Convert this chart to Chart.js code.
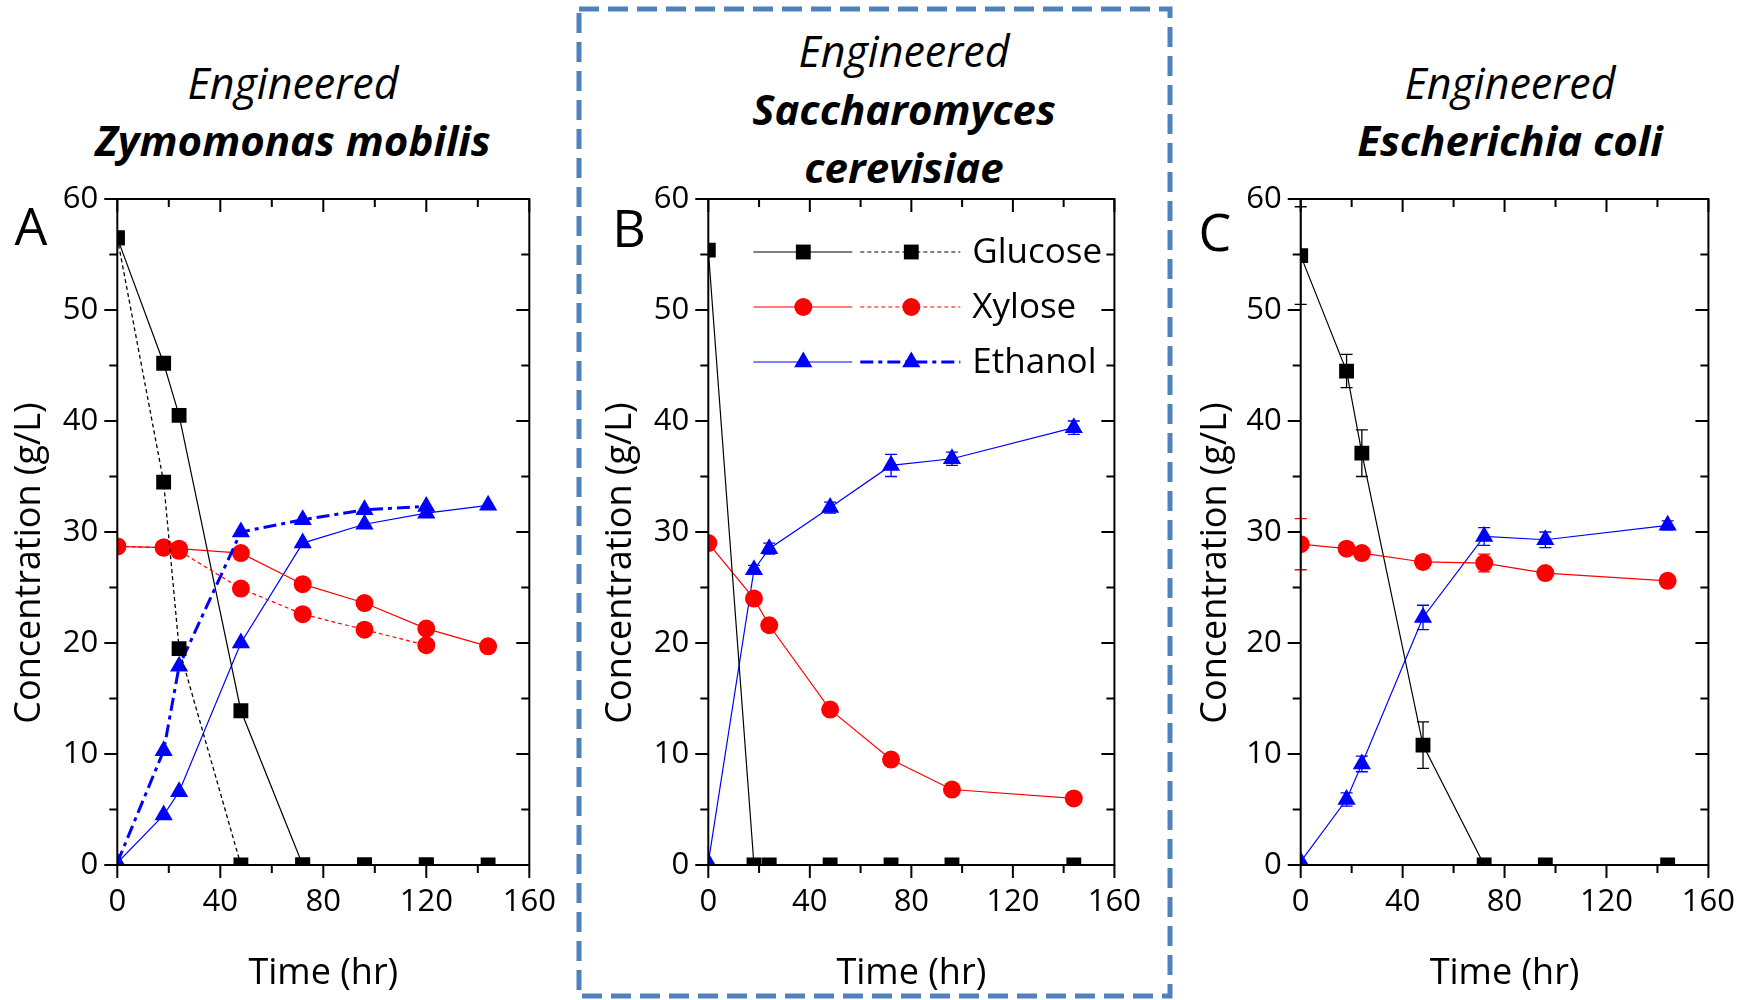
<!DOCTYPE html>
<html>
<head>
<meta charset="utf-8">
<script src="https://cdn.jsdelivr.net/npm/chart.js@4.4.1/dist/chart.umd.min.js"></script>
<style>
  html, body { margin: 0; padding: 0; background: #fff; }
  body { width: 1754px; height: 1000px; position: relative; overflow: hidden; font-family: 'Open Sans', sans-serif; }
  canvas { position: absolute; top: 0; }
  .t { position: absolute; transform: translate(-50%, -50%); white-space: nowrap; color: #000; }
  .it { font-style: italic; font-size: 43px; }
  .bi { font-style: italic; font-weight: bold; font-size: 42px; }
  .lt { position: absolute; transform: translate(-50%, -50%); font-size: 52px; color: #000; }
  svg { position: absolute; left: 0; top: 0; }
</style>
</head>
<body>
<svg width="1754" height="1000"><rect x="579" y="9" width="591" height="987" fill="none" stroke="#4f81bd" stroke-width="5" stroke-dasharray="20 9"/></svg>

<div class="t it" style="left:293px;top:82px">Engineered</div>
<div class="t bi" style="left:293px;top:139px">Zymomonas mobilis</div>
<div class="t it" style="left:904px;top:50px">Engineered</div>
<div class="t bi" style="left:904px;top:108px">Saccharomyces</div>
<div class="t bi" style="left:904px;top:166px">cerevisiae</div>
<div class="t it" style="left:1510px;top:82px">Engineered</div>
<div class="t bi" style="left:1510px;top:139px">Escherichia coli</div>

<canvas id="cA" width="580" height="1000" style="left:0px"></canvas>
<canvas id="cB" width="580" height="1000" style="left:580px"></canvas>
<canvas id="cC" width="584" height="1000" style="left:1170px"></canvas>

<div class="lt" style="left:31px;top:224px">A</div>
<div class="lt" style="left:629px;top:226px">B</div>
<div class="lt" style="left:1215px;top:230px">C</div>

<script>
// axes
const xTicks = [0, 40, 80, 120, 160];
const yTicks = [0, 10, 20, 30, 40, 50, 60];

// A: Zymomonas mobilis (solid and dashed runs)
const timeA = [0, 18, 24, 48, 72, 96, 120, 144];
const timeA2 = [0, 18, 24, 48, 72, 96, 120];
const glucoseA = [56.5, 45.2, 40.5, 13.9, 0, 0, 0, 0];
const glucoseA2 = [56.5, 34.5, 19.5, 0, 0, 0, 0];
const xyloseA = [28.7, 28.6, 28.5, 28.1, 25.3, 23.6, 21.3, 19.7];
const xyloseA2 = [28.7, 28.6, 28.3, 24.9, 22.6, 21.2, 19.8];
const ethanolA = [0.2, 4.5, 6.6, 20.0, 29.0, 30.7, 31.7, 32.4];
const ethanolA2 = [0.2, 10.3, 17.9, 30.0, 31.1, 32.0, 32.3];

// B: Saccharomyces cerevisiae
const timeB = [0, 18, 24, 48, 72, 96, 144];
const glucoseB = [55.4, 0, 0, 0, 0, 0, 0];
const xyloseB = [29.0, 24.0, 21.6, 14.0, 9.5, 6.8, 6.0];
const xyloseBErr = [0, 0.3, 0.3, 0.3, 0.3, 0.3, 0.3];
const ethanolB = [0.2, 26.6, 28.5, 32.2, 36.0, 36.6, 39.4];
const ethanolBErr = [0, 0.4, 0.5, 0.5, 1.0, 0.6, 0.6];

// C: Escherichia coli
const timeC = [0, 18, 24, 48, 72, 96, 144];
const glucoseC = [54.9, 44.5, 37.1, 10.8, 0, 0, 0];
const glucoseCErr = [4.4, 1.5, 2.1, 2.1, 0, 0, 0];
const xyloseC = [28.9, 28.5, 28.1, 27.3, 27.2, 26.3, 25.6];
const xyloseCErr = [2.3, 0.3, 0.3, 0.3, 0.8, 0.3, 0.3];
const ethanolC = [0.3, 5.9, 9.1, 22.3, 29.6, 29.3, 30.6];
const ethanolCErr = [0, 0.6, 0.7, 1.1, 0.8, 0.7, 0.4];

const BLACK = '#000000', RED = '#ff0000', BLUE = '#0000ff';
const tickFont = { family: 'Open Sans', size: 31 };
const titleFont = { family: 'Open Sans', size: 36 };
const markerSize = { rect: 10.5, circle: 9, triangle: 10.5 };

function pts(xs, ys) {
  return xs.map((x, i) => ({ x: x, y: ys[i] }));
}

function ds(xs, ys, color, shape, opts) {
  return Object.assign({
    data: pts(xs, ys),
    borderColor: color,
    backgroundColor: color,
    borderWidth: 1.2,
    pointStyle: shape,
    pointRadius: markerSize[shape],
    pointBorderWidth: 0,
    pointBackgroundColor: color,
    tension: 0,
    clip: 0
  }, opts || {});
}

// frame + minor/major ticks: outward on left/bottom, inward on top/right
const frameTicks = {
  id: 'frameTicks',
  afterDatasetsDraw(chart) {
    const { ctx, chartArea: a, scales: { x, y } } = chart;
    ctx.save();
    ctx.strokeStyle = '#000';
    ctx.lineWidth = 2;
    ctx.strokeRect(a.left, a.top, a.right - a.left, a.bottom - a.top);
    ctx.beginPath();
    const xStep = (xTicks[1] - xTicks[0]) / 2;
    for (let v = xTicks[0]; v <= xTicks[xTicks.length - 1]; v += xStep) {
      const px = x.getPixelForValue(v);
      const len = xTicks.includes(v) ? 13 : 8;
      ctx.moveTo(px, a.bottom); ctx.lineTo(px, a.bottom + len);
      ctx.moveTo(px, a.top); ctx.lineTo(px, a.top + len);
    }
    const yStep = (yTicks[1] - yTicks[0]) / 2;
    for (let v = yTicks[0]; v <= yTicks[yTicks.length - 1]; v += yStep) {
      const py = y.getPixelForValue(v);
      const len = yTicks.includes(v) ? 13 : 8;
      ctx.moveTo(a.left, py); ctx.lineTo(a.left - len, py);
      ctx.moveTo(a.right, py); ctx.lineTo(a.right - len, py);
    }
    ctx.stroke();
    ctx.restore();
  }
};

// y title sits a bit below the plot middle in the original
const yTitle = {
  id: 'yTitle',
  afterDraw(chart, args, opts) {
    const { ctx, chartArea: a } = chart;
    ctx.save();
    ctx.translate(opts.x, (a.top + a.bottom) / 2 + 31);
    ctx.rotate(-Math.PI / 2);
    ctx.font = '36px "Open Sans"';
    ctx.fillStyle = '#000';
    ctx.textAlign = 'center';
    ctx.textBaseline = 'middle';
    ctx.fillText('Concentration (g/L)', 0, 0);
    ctx.restore();
  }
};

const errorBars = {
  id: 'errorBars',
  beforeDatasetsDraw(chart) {
    const { ctx, scales: { y } } = chart;
    ctx.save();
    chart.data.datasets.forEach((d, i) => {
      if (!d.err) return;
      const meta = chart.getDatasetMeta(i);
      meta.data.forEach((p, j) => {
        const e = d.err[j];
        if (!e) return;
        const v = d.data[j].y;
        const y1 = y.getPixelForValue(v + e), y2 = y.getPixelForValue(v - e);
        ctx.strokeStyle = d.borderColor;
        ctx.lineWidth = 1.3;
        ctx.beginPath();
        ctx.moveTo(p.x, y1); ctx.lineTo(p.x, y2);
        ctx.moveTo(p.x - 6, y1); ctx.lineTo(p.x + 6, y1);
        ctx.moveTo(p.x - 6, y2); ctx.lineTo(p.x + 6, y2);
        ctx.stroke();
      });
    });
    ctx.restore();
  }
};

// two-style legend in panel B
const legendRows = [
  { label: 'Glucose', color: BLACK, shape: 'rect', w1: 1.2, w2: 1.2, dash: [4, 3] },
  { label: 'Xylose', color: RED, shape: 'circle', w1: 1.2, w2: 1.2, dash: [4, 3] },
  { label: 'Ethanol', color: BLUE, shape: 'triangle', w1: 1.2, w2: 3, dash: [13, 5, 4, 5] }
];
const pairLegend = {
  id: 'pairLegend',
  afterDraw(chart) {
    const { ctx, chartArea: a } = chart;
    ctx.save();
    legendRows.forEach((r, i) => {
      const yy = a.top + 53 + i * 55;
      const rad = markerSize[r.shape];
      ctx.strokeStyle = r.color;
      ctx.fillStyle = r.color;
      ctx.lineWidth = r.w1;
      ctx.setLineDash([]);
      ctx.beginPath(); ctx.moveTo(a.left + 45, yy); ctx.lineTo(a.left + 144, yy); ctx.stroke();
      ctx.lineWidth = r.w2;
      ctx.setLineDash(r.dash);
      ctx.beginPath(); ctx.moveTo(a.left + 152, yy); ctx.lineTo(a.left + 252, yy); ctx.stroke();
      ctx.setLineDash([]);
      Chart.helpers.drawPoint(ctx, { pointStyle: r.shape, radius: rad, borderWidth: 0 }, a.left + 95, yy);
      Chart.helpers.drawPoint(ctx, { pointStyle: r.shape, radius: rad, borderWidth: 0 }, a.left + 203, yy);
      ctx.fillStyle = '#000';
      ctx.font = '35px "Open Sans"';
      ctx.textBaseline = 'middle';
      ctx.fillText(r.label, a.left + 264, yy + 1);
    });
    ctx.restore();
  }
};

function makeChart(id, datasets, yWidth, padRight, yTitleX, extra) {
  return new Chart(document.getElementById(id), {
    type: 'line',
    data: { datasets: datasets },
    plugins: [errorBars, frameTicks, yTitle].concat(extra || []),
    options: {
      responsive: false,
      animation: false,
      devicePixelRatio: 1,
      layout: { padding: { left: 0, top: 199, right: padRight, bottom: 0 } },
      plugins: { legend: { display: false }, tooltip: { enabled: false }, yTitle: { x: yTitleX } },
      scales: {
        x: {
          type: 'linear', min: xTicks[0], max: xTicks[xTicks.length - 1],
          ticks: { stepSize: xTicks[1] - xTicks[0], font: tickFont, color: '#000', padding: 19, maxRotation: 0, autoSkip: false },
          grid: { display: false, drawTicks: false },
          border: { display: false },
          title: { display: true, text: 'Time (hr)', font: titleFont, color: '#000', padding: { top: 0, bottom: 4.5 } },
          afterFit: s => { s.height = 135; }
        },
        y: {
          type: 'linear', min: yTicks[0], max: yTicks[yTicks.length - 1],
          ticks: { stepSize: yTicks[1] - yTicks[0], font: tickFont, color: '#000', padding: 19, autoSkip: false },
          grid: { display: false, drawTicks: false },
          border: { display: false },
          afterFit: s => { s.width = yWidth; }
        }
      }
    }
  });
}

makeChart('cA', [
  ds(timeA2, glucoseA2, BLACK, 'rect', { borderWidth: 1.3, borderDash: [4, 3] }),
  ds(timeA2, xyloseA2, RED, 'circle', { borderDash: [4, 3] }),
  ds(timeA2, ethanolA2, BLUE, 'triangle', { borderWidth: 3, borderDash: [13, 5, 4, 5] }),
  ds(timeA, glucoseA, BLACK, 'rect'),
  ds(timeA, xyloseA, RED, 'circle'),
  ds(timeA, ethanolA, BLUE, 'triangle')
], 117.3, 50.7, 30);

makeChart('cB', [
  ds(timeB, glucoseB, BLACK, 'rect'),
  ds(timeB, xyloseB, RED, 'circle', { err: xyloseBErr }),
  ds(timeB, ethanolB, BLUE, 'triangle', { err: ethanolBErr })
], 128.3, 40, 41, [pairLegend]);

makeChart('cC', [
  ds(timeC, glucoseC, BLACK, 'rect', { err: glucoseCErr }),
  ds(timeC, xyloseC, RED, 'circle', { err: xyloseCErr }),
  ds(timeC, ethanolC, BLUE, 'triangle', { err: ethanolCErr })
], 130.7, 41.3, 46);
</script>
</body>
</html>
